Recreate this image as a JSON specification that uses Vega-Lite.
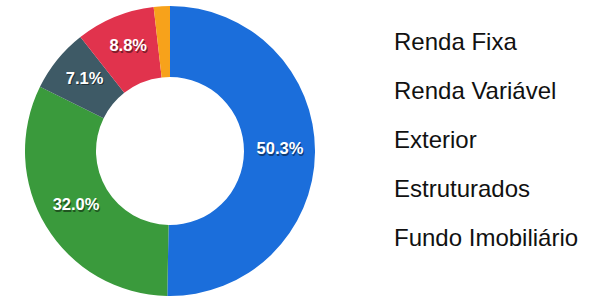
{
  "$schema": "https://vega.github.io/schema/vega-lite/v6.json",
  "width": 340,
  "height": 298,
  "padding": {"top": 2, "left": 0, "right": 0, "bottom": 0},
  "background": "white",
  "config": {"view": {"stroke": null}, "font": "Liberation Sans"},
  "data": {
    "values": [
      {"cat": "Renda Fixa", "value": 50.3, "idx": 1, "label": "50.3%"},
      {"cat": "Renda Variável", "value": 32.0, "idx": 2, "label": "32.0%"},
      {"cat": "Exterior", "value": 7.1, "idx": 3, "label": "7.1%"},
      {"cat": "Estruturados", "value": 8.8, "idx": 4, "label": "8.8%"},
      {"cat": "Fundo Imobiliário", "value": 1.8, "idx": 5, "label": ""}
    ]
  },
  "encoding": {
    "theta": {"field": "value", "type": "quantitative", "stack": true},
    "order": {"field": "idx", "type": "quantitative"}
  },
  "layer": [
    {
      "mark": {"type": "arc", "outerRadius": 145, "innerRadius": 74},
      "encoding": {
        "color": {
          "field": "cat",
          "type": "nominal",
          "sort": ["Renda Fixa", "Renda Variável", "Exterior", "Estruturados", "Fundo Imobiliário"],
          "scale": {
            "domain": ["Renda Fixa", "Renda Variável", "Exterior", "Estruturados", "Fundo Imobiliário"],
            "range": ["#1b6edb", "#3a9a3c", "#3e5a66", "#e1334d", "#f7a21b"]
          },
          "legend": {
            "orient": "none",
            "legendX": 370,
            "legendY": 29,
            "title": null,
            "symbolOpacity": 0,
            "symbolSize": 0,
            "symbolStrokeWidth": 0,
            "symbolOffset": 0,
            "labelOffset": 0,
            "labelFontSize": 24,
            "labelFont": "Liberation Sans",
            "labelColor": "#111111",
            "labelLimit": 300,
            "rowPadding": 25
          }
        }
      }
    },
    {
      "mark": {"type": "text", "radius": 110, "fontSize": 16.5, "fontWeight": "bold", "color": "#000000", "opacity": 0.45, "dx": 1, "dy": -1.5},
      "encoding": {"text": {"field": "label"}}
    },
    {
      "mark": {"type": "text", "radius": 110, "fontSize": 16.5, "fontWeight": "bold", "color": "#ffffff", "dy": -3},
      "encoding": {"text": {"field": "label"}}
    }
  ]
}
